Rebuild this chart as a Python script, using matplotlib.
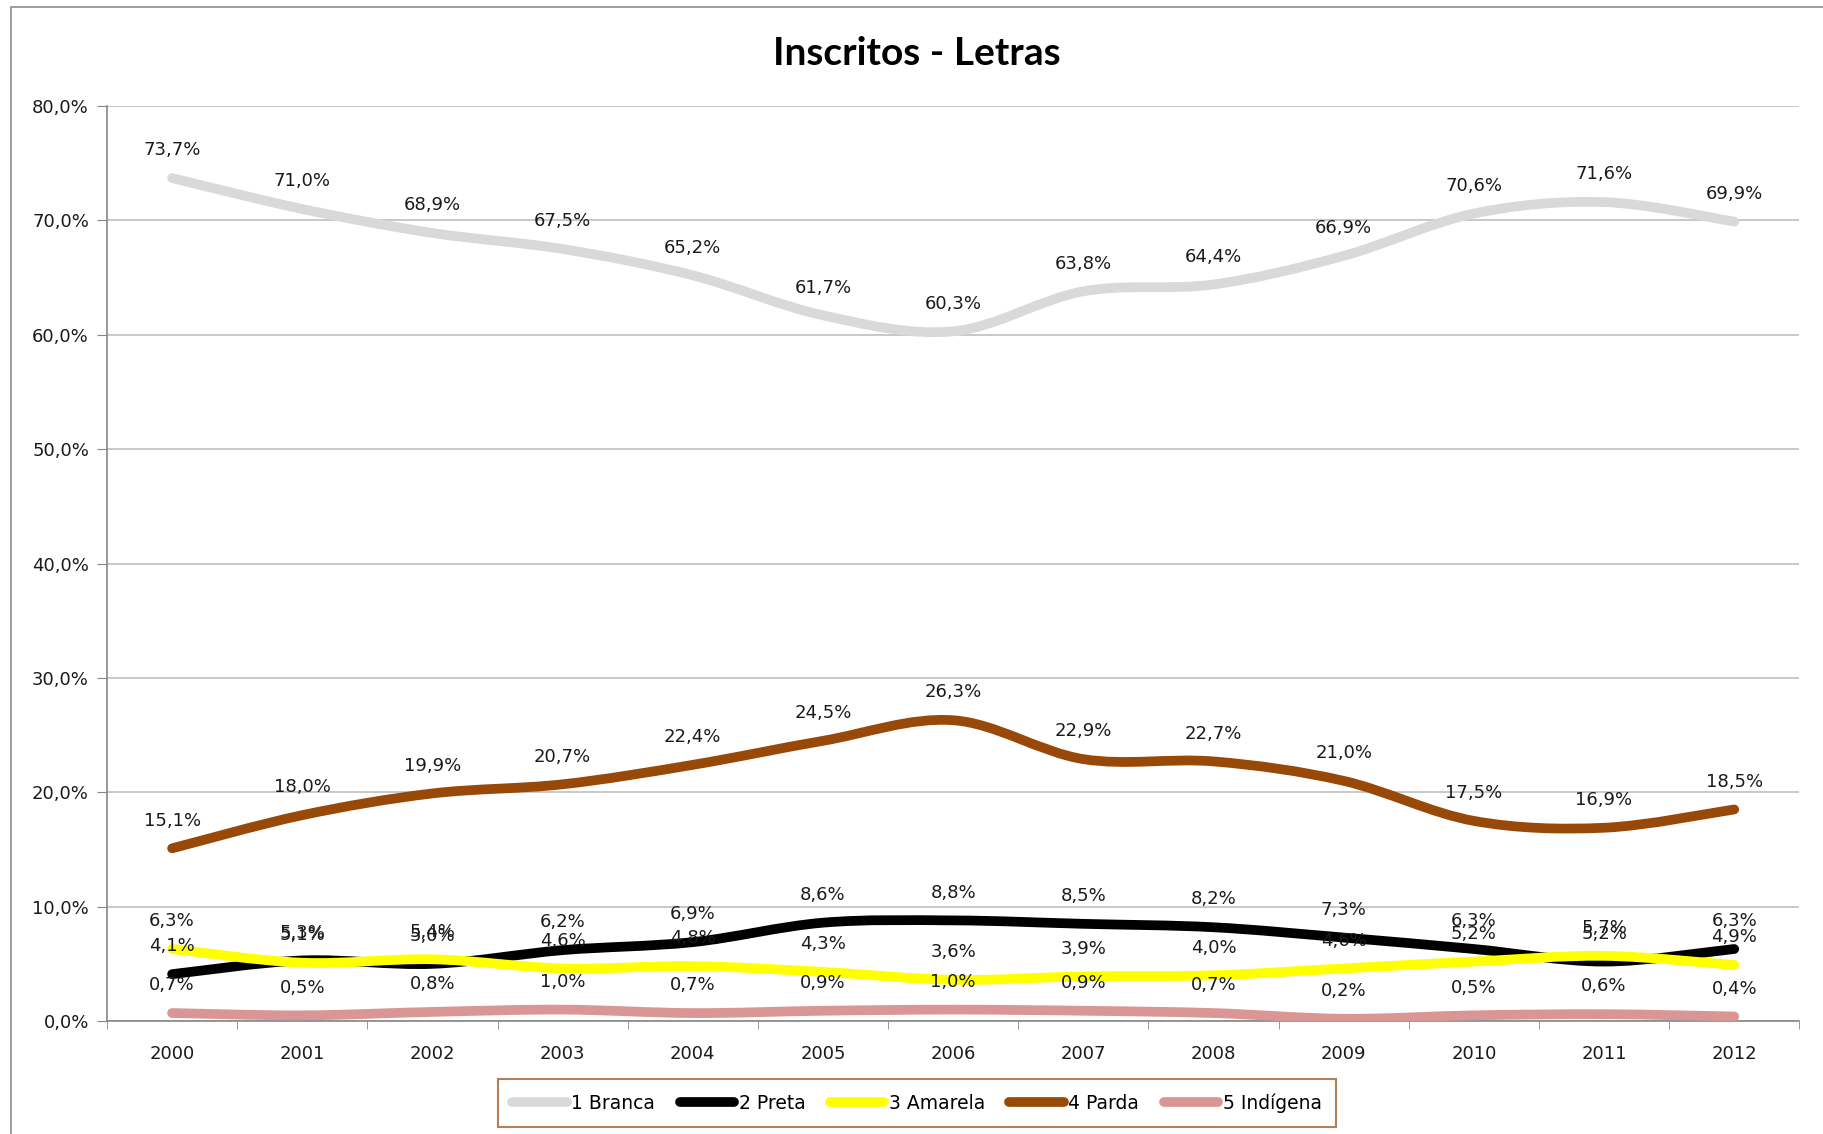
import matplotlib.pyplot as plt
import numpy as np
from matplotlib.path import Path
from matplotlib.patches import PathPatch, Rectangle
from matplotlib.lines import Line2D

years = ['2000', '2001', '2002', '2003', '2004', '2005', '2006',
         '2007', '2008', '2009', '2010', '2011', '2012']
branca = [73.7, 71.0, 68.9, 67.5, 65.2, 61.7, 60.3, 63.8, 64.4, 66.9, 70.6, 71.6, 69.9]
preta = [4.1, 5.3, 5.0, 6.2, 6.9, 8.6, 8.8, 8.5, 8.2, 7.3, 6.3, 5.2, 6.3]
amarela = [6.3, 5.1, 5.4, 4.6, 4.8, 4.3, 3.6, 3.9, 4.0, 4.6, 5.2, 5.7, 4.9]
parda = [15.1, 18.0, 19.9, 20.7, 22.4, 24.5, 26.3, 22.9, 22.7, 21.0, 17.5, 16.9, 18.5]
indigena = [0.7, 0.5, 0.8, 1.0, 0.7, 0.9, 1.0, 0.9, 0.7, 0.2, 0.5, 0.6, 0.4]

series = [
    ('1 Branca', branca, '#d9d9d9'),
    ('2 Preta', preta, '#000000'),
    ('3 Amarela', amarela, '#ffff00'),
    ('4 Parda', parda, '#984807'),
    ('5 Indígena', indigena, '#d99694'),
]


def pct(v):
    return f"{v:.1f}".replace('.', ',') + '%'


def smooth_path(xs, ys):
    # excel-like smoothed line: bezier segments through the points
    pts = np.column_stack([xs, ys]).astype(float)
    n = len(pts)
    verts = [pts[0]]
    codes = [Path.MOVETO]
    for i in range(n - 1):
        p0 = pts[max(i - 1, 0)]
        p1 = pts[i]
        p2 = pts[i + 1]
        p3 = pts[min(i + 2, n - 1)]
        verts += [p1 + (p2 - p0) / 6, p2 - (p3 - p1) / 6, p2]
        codes += [Path.CURVE4] * 3
    return Path(verts, codes)


fig = plt.figure(figsize=(18.23, 11.34), dpi=100)
ax = fig.add_axes([0.0587, 0.0996, 0.9283, 0.8069])

x = np.arange(len(years))
handles = []
for name, vals, color in series:
    patch = PathPatch(smooth_path(x, vals), fill=False, edgecolor=color,
                      linewidth=7, capstyle='round', joinstyle='round', zorder=3)
    ax.add_patch(patch)
    handles.append(Line2D([], [], color=color, linewidth=7, solid_capstyle='round'))
    for xi, v in zip(x, vals):
        ax.annotate(pct(v), (xi, v), xytext=(0, 20), textcoords='offset points',
                    ha='center', va='center', fontsize=13, color='#1a1a1a', zorder=4)

ax.set_xlim(-0.5, len(years) - 0.5)
ax.set_ylim(0, 80)
ax.set_yticks(np.arange(0, 81, 10))
ax.set_yticklabels([pct(v) for v in np.arange(0, 81, 10)], fontsize=13, color='#1a1a1a')
ax.set_xticks(x)
ax.set_xticklabels(years, fontsize=13, color='#1a1a1a')
ax.set_xticks(np.arange(-0.5, len(years), 1), minor=True)
ax.tick_params(axis='x', which='major', length=0, pad=17)
ax.tick_params(axis='x', which='minor', length=6, color='#868686', direction='out')
ax.tick_params(axis='y', length=7, color='#868686', direction='out', pad=6)
ax.grid(axis='y', color='#bfbfbf', linewidth=1.2)
ax.set_axisbelow(True)
for s in ['top', 'right']:
    ax.spines[s].set_visible(False)
for s in ['left', 'bottom']:
    ax.spines[s].set_color('#868686')
    ax.spines[s].set_linewidth(1.2)

fig.text(0.503, 0.953, 'Inscritos - Letras', ha='center', va='center',
         fontsize=28, fontweight='bold', family=['Lato', 'DejaVu Sans'])

leg = fig.legend(handles, [s[0] for s in series], loc='center', ncol=5,
                 bbox_to_anchor=(0.503, 0.0273), frameon=True, fancybox=False,
                 handlelength=2.9, handletextpad=0.25, columnspacing=1.3, borderpad=0.75,
                 prop={'family': ['Liberation Sans Narrow', 'DejaVu Sans Condensed', 'DejaVu Sans'],
                       'size': 13.5})
leg.get_frame().set_edgecolor('#a0602a')
leg.get_frame().set_linewidth(1.5)

fig.patches.append(Rectangle((0.006, -0.1), 1.2, 1.0938, transform=fig.transFigure,
                             fill=False, edgecolor='#8c8c8c', linewidth=1.2))

fig.savefig('out.png', dpi=100)
